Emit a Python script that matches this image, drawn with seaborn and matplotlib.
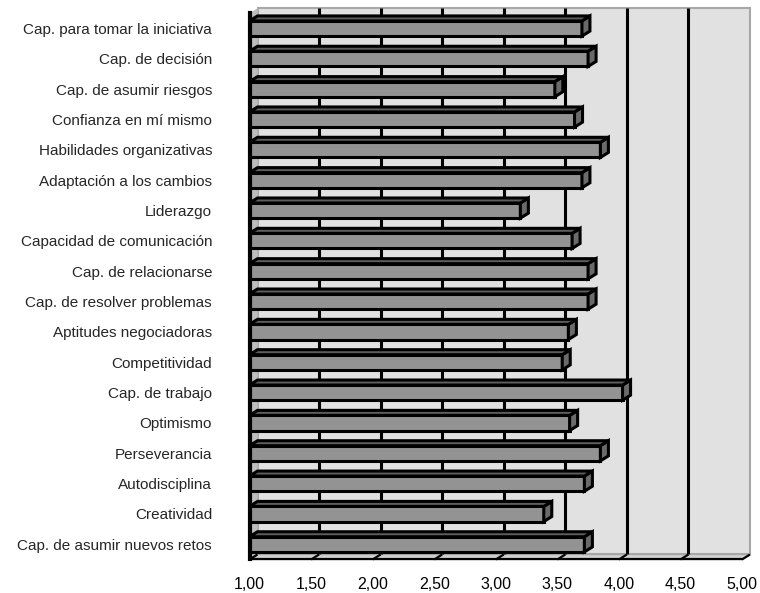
import numpy as np
import pandas as pd
import seaborn as sns
import matplotlib
matplotlib.use("Agg")
import matplotlib.pyplot as plt
from matplotlib.patches import Polygon, Rectangle
from matplotlib.transforms import ScaledTranslation

# Competencias y puntuación media (escala 1-5)
categorias = [
    "Cap. para tomar la iniciativa",
    "Cap. de decisión",
    "Cap. de asumir riesgos",
    "Confianza en mí mismo",
    "Habilidades organizativas",
    "Adaptación a los cambios",
    "Liderazgo",
    "Capacidad de comunicación",
    "Cap. de relacionarse",
    "Cap. de resolver problemas",
    "Aptitudes negociadoras",
    "Competitividad",
    "Cap. de trabajo",
    "Optimismo",
    "Perseverancia",
    "Autodisciplina",
    "Creatividad",
    "Cap. de asumir nuevos retos",
]
medias = [3.70, 3.75, 3.48, 3.64, 3.85, 3.70, 3.20, 3.62, 3.75,
          3.75, 3.59, 3.54, 4.03, 3.60, 3.85, 3.72, 3.39, 3.72]
ticks_x = [1.0, 1.5, 2.0, 2.5, 3.0, 3.5, 4.0, 4.5, 5.0]
etiquetas_x = ["1,00", "1,50", "2,00", "2,50", "3,00", "3,50", "4,00", "4,50", "5,00"]

df = pd.DataFrame({"competencia": categorias, "media": medias})

sns.set_style("white")
plt.rcParams["font.family"] = ["Liberation Sans", "DejaVu Sans"]

DPI = 100
fig = plt.figure(figsize=(7.60, 5.93), dpi=DPI)
ax = fig.add_axes([0.3283, 0.0565, 0.648, 0.921])
ax.set_facecolor("none")

BAR_FRONT = "#939393"
BAR_TOP = "#5e5e5e"
BAR_SIDE = "#6a6a6a"
WALL = "#e1e1e1"

sns.barplot(data=df, x="media", y="competencia", orient="h", color=BAR_FRONT,
            saturation=1, width=0.5, edgecolor="black", linewidth=2.2, ax=ax)
bars = list(ax.patches)

n = len(categorias)
ax.set_xlim(1, 5)
ax.set_ylim(n - 0.5, -0.5)

# depth of the 3-D effect in pixels, converted to data units
DX_PX, DY_PX = 8, 5
fig.canvas.draw()
p0 = ax.transData.transform((1.0, 0.0))
q = ax.transData.inverted().transform((p0[0] + DX_PX, p0[1] + DY_PX))
dxd, dyd = q[0] - 1.0, q[1] - 0.0
shift = ScaledTranslation(DX_PX / DPI, DY_PX / DPI, fig.dpi_scale_trans)
depth = ax.transData + shift

y_bot, y_top = n - 0.5, -0.5

# back wall
ax.add_patch(Rectangle((0, 0), 1, 1, transform=ax.transAxes + shift,
                       facecolor=WALL, edgecolor="#a8a8a8", lw=1.5, zorder=0, clip_on=False))
# side wall
ax.add_patch(Polygon([(1, y_bot), (1, y_top), (1 + dxd, y_top + dyd), (1 + dxd, y_bot + dyd)],
                     closed=True, facecolor="#bdbdbd", edgecolor="none", zorder=0.5, clip_on=False))
# floor
ax.add_patch(Polygon([(1, y_bot), (5, y_bot), (5 + dxd, y_bot + dyd), (1 + dxd, y_bot + dyd)],
                     closed=True, facecolor="#d2d2d2", edgecolor="#a8a8a8", lw=1.0, zorder=0.5, clip_on=False))

# gridlines on the back wall
for t in ticks_x[1:-1]:
    ax.plot([t, t], [y_bot, y_top], transform=depth, color="black", lw=2.2,
            zorder=1, clip_on=False, solid_capstyle="butt")

# bars: front face from seaborn, plus top face and end cap
for bar in bars:
    bar.set_zorder(3)
    y0 = bar.get_y()
    h = bar.get_height()
    v = bar.get_x() + bar.get_width()
    top, bot = y0, y0 + h
    ax.add_patch(Polygon([(1, top), (v, top), (v + dxd, top + dyd), (1 + dxd, top + dyd)],
                         closed=True, facecolor=BAR_TOP, edgecolor="black", lw=2.2,
                         joinstyle="miter", zorder=3.2))
    ax.add_patch(Polygon([(v, top), (v, bot), (v + dxd, bot + dyd), (v + dxd, top + dyd)],
                         closed=True, facecolor=BAR_SIDE, edgecolor="black", lw=2.2,
                         joinstyle="miter", zorder=3.1))

# slanted depth marks at the top of each x tick
for t in ticks_x:
    ax.plot([t, t + dxd], [y_bot, y_bot + dyd], color="black", lw=1.6,
            zorder=4, clip_on=False, solid_capstyle="butt")

# axes styling
for s in ["top", "right"]:
    ax.spines[s].set_visible(False)
ax.spines["left"].set_linewidth(3.0)
ax.spines["bottom"].set_linewidth(1.6)
for s in ["left", "bottom"]:
    ax.spines[s].set_color("black")
    ax.spines[s].set_zorder(5)

ax.set_xticks(ticks_x)
ax.set_xticklabels(etiquetas_x, fontsize=11.5)
ax.tick_params(axis="x", direction="out", length=8.6, width=2.0, pad=4, colors="black")

ax.set_yticks(range(n))
ax.set_yticklabels(categorias, fontsize=11)
ax.set_yticks(np.arange(-0.5, n, 1.0), minor=True)
ax.tick_params(axis="y", which="major", length=0, pad=27)
ax.tick_params(axis="y", which="minor", direction="out", length=8.6, width=2.0)

ax.set_xlabel("")
ax.set_ylabel("")

fig.savefig("out.png", dpi=DPI)
